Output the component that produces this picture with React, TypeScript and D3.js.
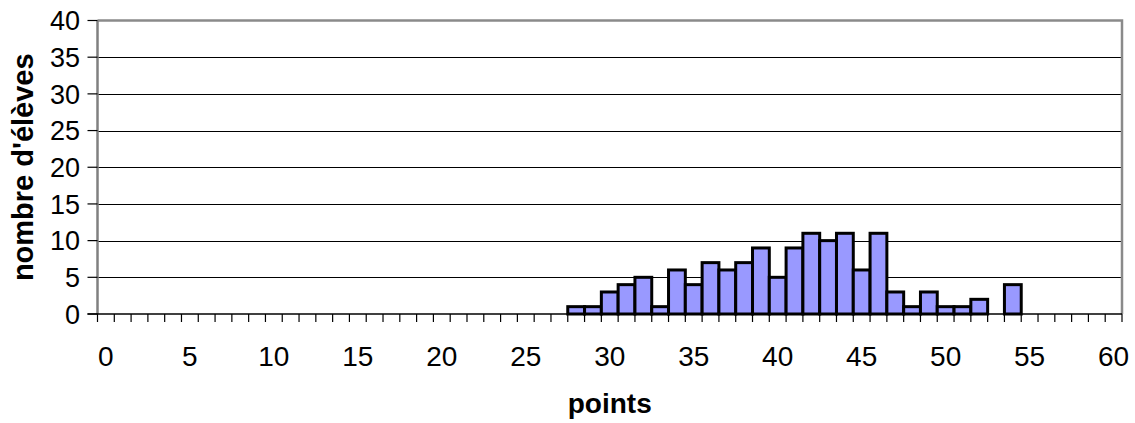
import React, { useEffect, useRef } from 'react';
import * as d3 from 'd3';

// points obtained (x categories)
const points: number[] = [
  0, 1, 2, 3, 4, 5, 6, 7, 8, 9, 10, 11, 12, 13, 14, 15, 16, 17, 18, 19, 20,
  21, 22, 23, 24, 25, 26, 27, 28, 29, 30, 31, 32, 33, 34, 35, 36, 37, 38, 39, 40,
  41, 42, 43, 44, 45, 46, 47, 48, 49, 50, 51, 52, 53, 54, 55, 56, 57, 58, 59, 60,
];

// number of pupils per score
const eleves: number[] = [
  0, 0, 0, 0, 0, 0, 0, 0, 0, 0, 0, 0, 0, 0, 0, 0, 0, 0, 0, 0, 0,
  0, 0, 0, 0, 0, 0, 0, 1, 1, 3, 4, 5, 1, 6, 4, 7, 6, 7, 9, 5,
  9, 11, 10, 11, 6, 11, 3, 1, 3, 1, 1, 2, 0, 4, 0, 0, 0, 0, 0, 0,
];

const yTicks: number[] = [0, 5, 10, 15, 20, 25, 30, 35, 40];
const xLabels: number[] = [0, 5, 10, 15, 20, 25, 30, 35, 40, 45, 50, 55, 60];

const xTitle = 'points';
const yTitle = "nombre d'élèves";

const width = 1135;
const height = 423;
const plot = { left: 97.5, right: 1122, top: 20.5, bottom: 314 };
const font = 'Arial, "Liberation Sans", Helvetica, sans-serif';

export default function App() {
  const svgRef = useRef<SVGSVGElement>(null);

  useEffect(() => {
    if (!svgRef.current) return;
    const svg = d3.select(svgRef.current);
    svg.selectAll('*').remove();

    const x = d3
      .scaleBand<number>()
      .domain(points)
      .range([plot.left, plot.right])
      .padding(0);

    const y = d3.scaleLinear().domain([0, 40]).range([plot.bottom, plot.top]);

    // gridlines
    svg
      .append('g')
      .selectAll('line')
      .data(yTicks.filter((t) => t > 0 && t < 40))
      .enter()
      .append('line')
      .attr('x1', plot.left)
      .attr('x2', plot.right)
      .attr('y1', (d) => Math.round(y(d)) + 0.5)
      .attr('y2', (d) => Math.round(y(d)) + 0.5)
      .attr('stroke', '#000')
      .attr('stroke-width', 1.2);

    // top and right border
    svg
      .append('path')
      .attr('d', `M${plot.left},${plot.top} H${plot.right} V${plot.bottom}`)
      .attr('fill', 'none')
      .attr('stroke', '#8a8a8a')
      .attr('stroke-width', 2.5);

    // bars
    svg
      .append('g')
      .selectAll('rect')
      .data(points.filter((_, i) => eleves[i] > 0))
      .enter()
      .append('rect')
      .attr('x', (d) => x(d)!)
      .attr('width', x.bandwidth())
      .attr('y', (d) => y(eleves[points.indexOf(d)]))
      .attr('height', (d) => plot.bottom - y(eleves[points.indexOf(d)]))
      .attr('fill', '#9999ff')
      .attr('stroke', '#000')
      .attr('stroke-width', 3);

    // y axis
    const yAxis = svg.append('g');
    yAxis
      .append('line')
      .attr('x1', plot.left)
      .attr('x2', plot.left)
      .attr('y1', plot.top)
      .attr('y2', plot.bottom)
      .attr('stroke', '#808080')
      .attr('stroke-width', 2.5);
    yAxis
      .selectAll('line.tick')
      .data(yTicks)
      .enter()
      .append('line')
      .attr('class', 'tick')
      .attr('x1', plot.left - 10)
      .attr('x2', plot.left)
      .attr('y1', (d) => y(d))
      .attr('y2', (d) => y(d))
      .attr('stroke', '#000')
      .attr('stroke-width', 1.2);
    yAxis
      .selectAll('text')
      .data(yTicks)
      .enter()
      .append('text')
      .attr('x', 80)
      .attr('y', (d) => y(d))
      .attr('dy', '0.36em')
      .attr('text-anchor', 'end')
      .attr('font-family', font)
      .attr('font-size', 27)
      .attr('fill', '#000')
      .text((d) => d);

    // x axis
    const xAxis = svg.append('g');
    xAxis
      .append('line')
      .attr('x1', plot.left - 10)
      .attr('x2', plot.right)
      .attr('y1', plot.bottom)
      .attr('y2', plot.bottom)
      .attr('stroke', '#000')
      .attr('stroke-width', 1.5);
    const boundaries = points.map((p) => x(p)!).concat([plot.right]);
    xAxis
      .selectAll('line.tick')
      .data(boundaries)
      .enter()
      .append('line')
      .attr('class', 'tick')
      .attr('x1', (d) => d)
      .attr('x2', (d) => d)
      .attr('y1', plot.bottom)
      .attr('y2', plot.bottom + 8)
      .attr('stroke', '#000')
      .attr('stroke-width', 1.2);
    xAxis
      .selectAll('text')
      .data(xLabels)
      .enter()
      .append('text')
      .attr('x', (d) => x(d)! + x.bandwidth() / 2)
      .attr('y', 366)
      .attr('text-anchor', 'middle')
      .attr('font-family', font)
      .attr('font-size', 28)
      .attr('fill', '#000')
      .text((d) => d);

    // axis titles
    svg
      .append('text')
      .attr('x', (plot.left + plot.right) / 2)
      .attr('y', 413)
      .attr('text-anchor', 'middle')
      .attr('font-family', font)
      .attr('font-size', 28)
      .attr('font-weight', 'bold')
      .text(xTitle);

    svg
      .append('text')
      .attr('transform', `translate(33,${(plot.top + plot.bottom) / 2}) rotate(-90)`)
      .attr('text-anchor', 'middle')
      .attr('font-family', font)
      .attr('font-size', 29)
      .attr('font-weight', 'bold')
      .text(yTitle);
  }, []);

  return (
    <svg
      ref={svgRef}
      width={width}
      height={height}
      style={{ position: 'absolute', left: 0, top: 0, background: '#fff' }}
    />
  );
}
